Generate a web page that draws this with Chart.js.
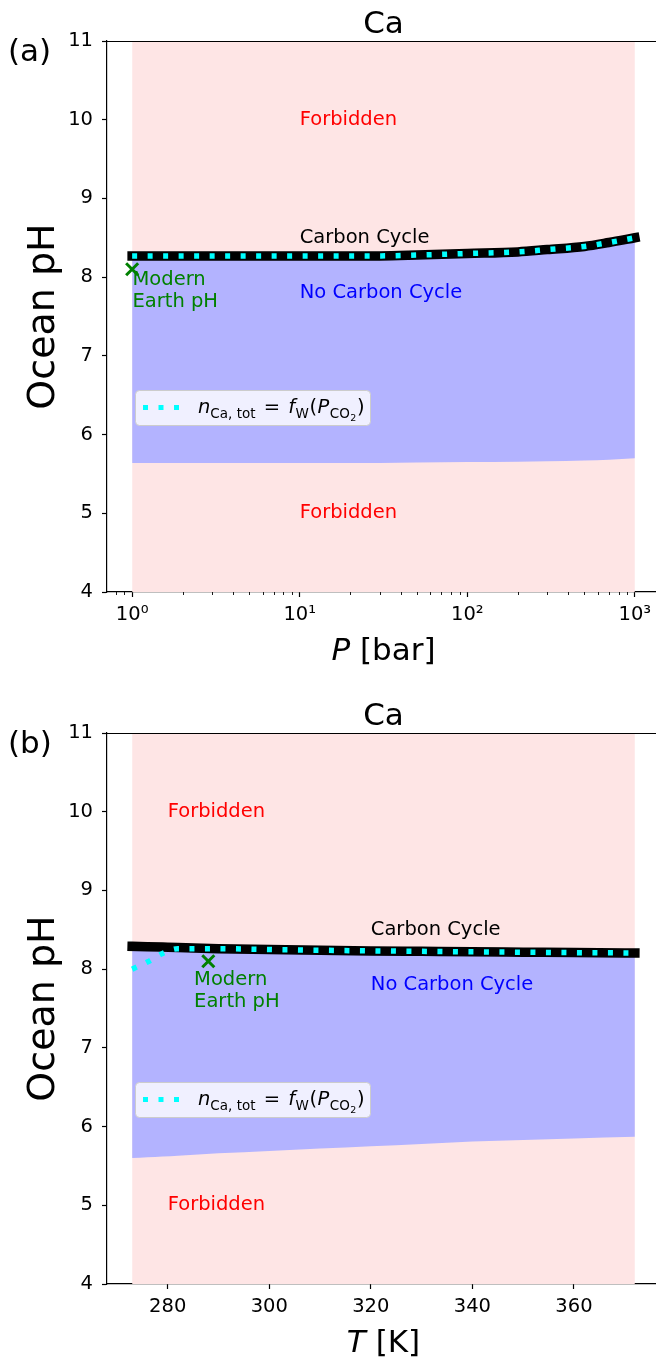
<!DOCTYPE html>
<html>
<head>
<meta charset="utf-8">
<script src="https://cdn.jsdelivr.net/npm/chart.js@4.4.1/dist/chart.umd.min.js"></script>
<style>
  html, body { margin: 0; padding: 0; background: #fff; overflow: hidden; }
  .panel { position: absolute; left: 0; }
  #panel-a { top: 0; }
  #panel-b { top: 692px; }
</style>
</head>
<body>
<div class="panel" id="panel-a"><canvas id="chart-a" width="672" height="692"></canvas></div>
<div class="panel" id="panel-b"><canvas id="chart-b" width="672" height="666"></canvas></div>
<script>
// ---- data: shared pH axis ----
const phTicks = [4, 5, 6, 7, 8, 9, 10, 11];
const phRange = [4, 11];

// ---- data: panel (a), pressure sweep ----
const pressureBar      = [1, 3, 10, 30, 50, 100, 200, 300, 500, 700, 1000];
const carbonCyclePhP   = [8.27, 8.27, 8.27, 8.27, 8.28, 8.30, 8.32, 8.35, 8.39, 8.44, 8.50];
const weatheringPhP    = [8.27, 8.27, 8.27, 8.27, 8.28, 8.30, 8.32, 8.35, 8.39, 8.44, 8.50];
const lowerLimitPhP    = [5.64, 5.64, 5.64, 5.64, 5.645, 5.65, 5.655, 5.66, 5.67, 5.68, 5.70];
const pressureTicks    = [1, 10, 100, 1000];
const pressureMinor    = [0.8, 0.9, 2, 3, 4, 5, 6, 7, 8, 9, 20, 30, 40, 50, 60, 70, 80, 90,
                          200, 300, 400, 500, 600, 700, 800, 900];
const modernEarthP     = [1, 8.1];

// ---- data: panel (b), temperature sweep ----
const temperatureK     = [273, 276, 279, 282, 290, 300, 310, 320, 330, 340, 350, 360, 372];
const carbonCyclePhT   = [8.29, 8.285, 8.28, 8.275, 8.26, 8.25, 8.24, 8.232, 8.226, 8.22, 8.215, 8.21, 8.205];
const weatheringPhT    = [8.00, 8.09, 8.20, 8.26, 8.26, 8.25, 8.24, 8.232, 8.226, 8.22, 8.215, 8.21, 8.205];
const lowerLimitPhT    = [5.60, 5.61, 5.62, 5.63, 5.66, 5.69, 5.72, 5.75, 5.78, 5.81, 5.83, 5.85, 5.87];
const temperatureTicks = [280, 300, 320, 340, 360];
const modernEarthT     = [288, 8.1];

const FONT = "'DejaVu Sans', sans-serif";
const SUP = ['\u2070', '\u00b9', '\u00b2', '\u00b3'];
const COLORS = {
  forbidden: 'rgb(254,229,229)',
  noCycle: 'rgb(179,179,255)',
  cycle: '#000000',
  weathering: '#00ffff',
  earth: '#008000'
};

/**
 * 軸・注記・凡例などの描画
 */
const decorPlugin = {
  id: 'decor',
  afterDraw(chart, args, opts) {
    const { ctx, chartArea: a, scales: { x, y } } = chart;
    ctx.save();

    // top / right spines
    const topY = Math.round(a.top) + 0.5;
    ctx.strokeStyle = '#000';
    ctx.lineWidth = 1.2;
    ctx.beginPath();
    ctx.moveTo(a.left, topY);
    ctx.lineTo(a.right, topY);
    ctx.lineTo(a.right, a.bottom);
    ctx.stroke();

    // minor ticks (log axis)
    ctx.lineWidth = 0.9;
    (opts.minorTicks || []).forEach(v => {
      const px = Math.round(x.getPixelForValue(v)) + 0.5;
      ctx.beginPath();
      ctx.moveTo(px, a.bottom);
      ctx.lineTo(px, a.bottom + 3);
      ctx.stroke();
    });

    // region notes
    ctx.textAlign = 'left';
    ctx.textBaseline = 'middle';
    ctx.font = `19.5px ${FONT}`;
    opts.notes.forEach(n => {
      ctx.fillStyle = n.color;
      const lines = n.text.split('\n');
      const x0 = x.getPixelForValue(n.x);
      const y0 = y.getPixelForValue(n.y);
      lines.forEach((t, i) => ctx.fillText(t, x0, y0 + (i - (lines.length - 1) / 2) * 22));
    });

    this.drawLegend(ctx, a);

    // title, panel tag
    ctx.fillStyle = '#000';
    ctx.textBaseline = 'alphabetic';
    ctx.font = `31px ${FONT}`;
    ctx.textAlign = 'center';
    ctx.fillText('Ca', (a.left + a.right) / 2, a.top - 8);
    ctx.textAlign = 'left';
    ctx.fillText(opts.tag, 8, a.top + 20);

    // x label: italic symbol + unit
    const sym = opts.xSymbol;
    const unit = ` [${opts.xUnit}]`;
    ctx.font = `italic 31px ${FONT}`;
    const wSym = ctx.measureText(sym).width;
    ctx.font = `31px ${FONT}`;
    const wUnit = ctx.measureText(unit).width;
    const lx = (a.left + a.right) / 2 - (wSym + wUnit) / 2;
    const ly = a.bottom + 68;
    ctx.font = `italic 31px ${FONT}`;
    ctx.fillText(sym, lx, ly);
    ctx.font = `31px ${FONT}`;
    ctx.fillText(unit, lx + wSym, ly);

    // y label
    ctx.save();
    ctx.translate(54, (a.top + a.bottom) / 2);
    ctx.rotate(-Math.PI / 2);
    ctx.textAlign = 'center';
    ctx.font = `38px ${FONT}`;
    ctx.fillText('Ocean pH', 0, 0);
    ctx.restore();

    ctx.restore();
  },

  /**
   * 凡例
   */
  drawLegend(ctx, a) {
    const left = a.left + 28;
    const top = a.top + 349;
    const w = 235, h = 35, r = 4;

    ctx.beginPath();
    ctx.roundRect(left + 0.5, top + 0.5, w, h, r);
    ctx.fillStyle = 'rgba(255,255,255,0.8)';
    ctx.fill();
    ctx.strokeStyle = '#cccccc';
    ctx.lineWidth = 1;
    ctx.stroke();

    ctx.save();
    ctx.strokeStyle = COLORS.weathering;
    ctx.lineWidth = 5;
    ctx.lineCap = 'butt';
    ctx.setLineDash([5, 10.5]);
    ctx.beginPath();
    ctx.moveTo(left + 8, top + h / 2);
    ctx.lineTo(left + 45, top + h / 2);
    ctx.stroke();
    ctx.restore();

    const runs = [
      { t: 'n', f: `italic 19.5px ${FONT}`, dy: 0, gap: 0 },
      { t: 'Ca, tot', f: `13.5px ${FONT}`, dy: 4.5, gap: 0 },
      { t: ' = ', f: `19.5px ${FONT}`, dy: 0, gap: 2 },
      { t: 'f', f: `italic 19.5px ${FONT}`, dy: 0, gap: 0 },
      { t: 'W', f: `13.5px ${FONT}`, dy: 4.5, gap: 0.5 },
      { t: '(', f: `19.5px ${FONT}`, dy: 0, gap: 0 },
      { t: 'P', f: `italic 19.5px ${FONT}`, dy: 0, gap: 0.5 },
      { t: 'CO', f: `13.5px ${FONT}`, dy: 4.5, gap: 0 },
      { t: '2', f: `9.5px ${FONT}`, dy: 7.5, gap: 0.5 },
      { t: ')', f: `19.5px ${FONT}`, dy: 0, gap: 0 }
    ];
    let tx = left + 63;
    const base = top + 23;
    ctx.fillStyle = '#000';
    ctx.textAlign = 'left';
    ctx.textBaseline = 'alphabetic';
    runs.forEach(run => {
      ctx.font = run.f;
      tx += run.gap;
      ctx.fillText(run.t, tx, base + run.dy);
      tx += ctx.measureText(run.t).width + run.gap;
    });
  }
};

/**
 * 1パネル分のグラフ生成
 */
function buildPanel(canvasId, p) {
  const pts = (xs, ys) => xs.map((v, i) => ({ x: v, y: ys[i] }));
  const first = p.xs[0];
  const last = p.xs[p.xs.length - 1];

  const tickFont = { family: FONT, size: 19.5 };
  const gridOpts = {
    drawOnChartArea: false,
    drawTicks: true,
    tickLength: 5,
    tickWidth: 1.2,
    tickColor: '#000',
    color: '#000'
  };
  const borderOpts = { display: true, color: '#000', width: 1.2 };

  return new Chart(document.getElementById(canvasId).getContext('2d'), {
    type: 'line',
    data: {
      datasets: [
        {
          label: 'Modern Earth pH',
          data: [{ x: p.earth[0], y: p.earth[1] }],
          showLine: false,
          pointStyle: 'crossRot',
          pointRadius: 8.5,
          pointBorderWidth: 3,
          pointBorderColor: COLORS.earth,
          pointBackgroundColor: COLORS.earth,
          order: 0
        },
        {
          label: 'weathering',
          data: pts(p.xs, p.weathering),
          borderColor: COLORS.weathering,
          borderWidth: 5.5,
          borderDash: [5, 10.5],
          borderCapStyle: 'butt',
          cubicInterpolationMode: 'monotone',
          pointRadius: 0,
          fill: false,
          order: 1
        },
        {
          label: 'carbon cycle',
          data: pts(p.xs, p.cycle),
          borderColor: COLORS.cycle,
          borderWidth: 9.5,
          borderCapStyle: 'square',
          borderJoinStyle: 'round',
          cubicInterpolationMode: 'monotone',
          pointRadius: 0,
          fill: false,
          order: 2
        },
        {
          label: 'no cycle top',
          data: pts(p.xs, p.cycle),
          borderColor: 'rgba(0,0,0,0)',
          backgroundColor: COLORS.noCycle,
          cubicInterpolationMode: 'monotone',
          pointRadius: 0,
          fill: '+1',
          order: 3
        },
        {
          label: 'no cycle bottom',
          data: pts(p.xs, p.lower),
          borderColor: 'rgba(0,0,0,0)',
          cubicInterpolationMode: 'monotone',
          pointRadius: 0,
          fill: false,
          order: 4
        },
        {
          label: 'forbidden',
          data: [{ x: first, y: phRange[1] }, { x: last, y: phRange[1] }],
          borderColor: 'rgba(0,0,0,0)',
          backgroundColor: COLORS.forbidden,
          pointRadius: 0,
          fill: { value: phRange[0] },
          order: 5
        }
      ]
    },
    options: {
      responsive: false,
      animation: false,
      devicePixelRatio: 1,
      events: [],
      layout: { padding: { left: 0, right: 12, top: 41, bottom: p.bottomPad } },
      scales: {
        x: {
          type: p.xType,
          min: p.xMin,
          max: p.xMax,
          bounds: 'data',
          afterBuildTicks: axis => { axis.ticks = p.xTicks.map(v => ({ value: v })); },
          afterFit: axis => { axis.height = 40; },
          ticks: {
            autoSkip: false,
            maxRotation: 0,
            padding: 6,
            color: '#000',
            font: tickFont,
            callback: p.tickLabel
          },
          grid: gridOpts,
          border: borderOpts
        },
        y: {
          type: 'linear',
          min: phRange[0],
          max: phRange[1],
          bounds: 'data',
          afterBuildTicks: axis => { axis.ticks = phTicks.map(v => ({ value: v })); },
          afterFit: axis => { axis.width = 107; },
          ticks: { padding: 9, color: '#000', font: tickFont },
          grid: gridOpts,
          border: borderOpts
        }
      },
      plugins: {
        legend: { display: false },
        tooltip: { enabled: false },
        decor: {
          tag: p.tag,
          xSymbol: p.xSymbol,
          xUnit: p.xUnit,
          minorTicks: p.minor,
          notes: p.notes
        }
      }
    },
    plugins: [decorPlugin]
  });
}

buildPanel('chart-a', {
  tag: '(a)',
  xType: 'logarithmic',
  xMin: Math.pow(10, -0.15),
  xMax: Math.pow(10, 3.15),
  xTicks: pressureTicks,
  minor: pressureMinor,
  tickLabel: v => '10' + SUP[Math.round(Math.log10(v))],
  xSymbol: 'P',
  xUnit: 'bar',
  bottomPad: 60,
  xs: pressureBar,
  cycle: carbonCyclePhP,
  weathering: weatheringPhP,
  lower: lowerLimitPhP,
  earth: modernEarthP,
  notes: [
    { text: 'Forbidden', x: 10, y: 10, color: '#ff0000' },
    { text: 'Forbidden', x: 10, y: 5, color: '#ff0000' },
    { text: 'Carbon Cycle', x: 10, y: 8.5, color: '#000000' },
    { text: 'No Carbon Cycle', x: 10, y: 7.8, color: '#0000ff' },
    { text: 'Modern\nEarth pH', x: 1.005, y: 7.82, color: COLORS.earth }
  ]
});

buildPanel('chart-b', {
  tag: '(b)',
  xType: 'linear',
  xMin: 268.05,
  xMax: 376.95,
  xTicks: temperatureTicks,
  minor: [],
  tickLabel: v => String(v),
  xSymbol: 'T',
  xUnit: 'K',
  bottomPad: 34,
  xs: temperatureK,
  cycle: carbonCyclePhT,
  weathering: weatheringPhT,
  lower: lowerLimitPhT,
  earth: modernEarthT,
  notes: [
    { text: 'Forbidden', x: 280, y: 10, color: '#ff0000' },
    { text: 'Forbidden', x: 280, y: 5, color: '#ff0000' },
    { text: 'Carbon Cycle', x: 320, y: 8.5, color: '#000000' },
    { text: 'No Carbon Cycle', x: 320, y: 7.8, color: '#0000ff' },
    { text: 'Modern\nEarth pH', x: 285.2, y: 7.72, color: COLORS.earth }
  ]
});
</script>
</body>
</html>
